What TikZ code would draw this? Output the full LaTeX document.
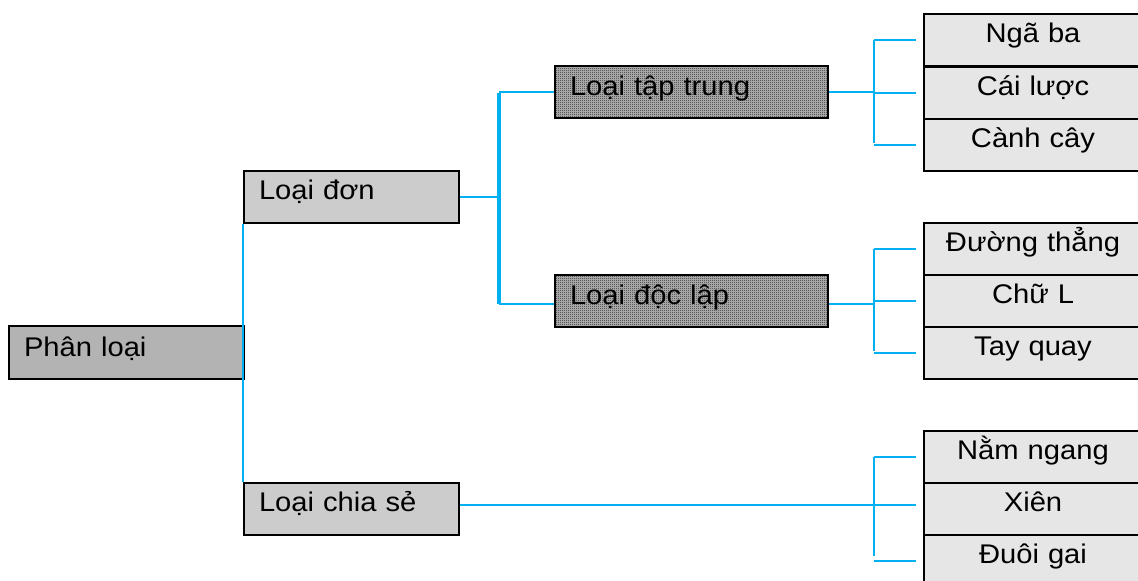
\documentclass[tikz,border=0pt]{standalone}
\usepackage{fontspec}
\setmainfont{Liberation Sans}[FakeStretch=1.08]
\usetikzlibrary{patterns}

% fine one-dot checker used for the emphasised boxes
\pgfdeclarepatternformonly{finecheck}{\pgfpoint{0pt}{0pt}}{\pgfpoint{2pt}{2pt}}{\pgfpoint{2pt}{2pt}}{%
  \pgfpathrectangle{\pgfpoint{0pt}{0pt}}{\pgfpoint{1pt}{1pt}}%
  \pgfpathrectangle{\pgfpoint{1pt}{1pt}}{\pgfpoint{1pt}{1pt}}%
  \pgfusepath{fill}}

\definecolor{linkblue}{HTML}{00B0F0}
\definecolor{rootgray}{HTML}{B3B3B3}
\definecolor{midgray}{HTML}{CCCCCC}
\definecolor{leafgray}{HTML}{E6E6E6}

\tikzset{
  box/.style={draw=black, line width=2pt, rectangle, anchor=north west,
    inner ysep=0pt, font=\fontsize{27}{32}\selectfont},
  leftbox/.style={box, align=left, inner xsep=15pt,
    text width=#1-30pt, minimum width=#1},
  rootbox/.style={leftbox=235pt, fill=rootgray, minimum height=53pt,
    text height=30pt, text depth=23pt},
  midbox/.style={leftbox=215pt, fill=midgray, minimum height=52pt,
    text height=28pt, text depth=24pt},
  darkbox/.style={leftbox=273pt, preaction={fill=gray!55},
    pattern=finecheck, pattern color=black!85, minimum height=52pt,
    text height=29pt, text depth=23pt},
  leaf/.style={box, fill=leafgray, align=center, inner xsep=0pt,
    text width=218pt, minimum width=218pt, minimum height=52pt,
    text height=28pt, text depth=24pt},
  conn/.style={draw=linkblue, line width=2.3pt},
  bus/.style={draw=linkblue, line width=3.5pt},
}

\begin{document}
\begin{tikzpicture}[x=1pt, y=-1pt]
\useasboundingbox (0,0) rectangle (1138,581);

% tree of boxes
\node[rootbox] (root) at (8,325) {Phân loại};
\node[midbox] (don) at (243,170) {Loại đơn};
\node[midbox] (chia) at (243,482) {Loại chia sẻ};
\node[darkbox] (taptrung) at (554,65) {Loại tập trung};
\node[darkbox] (doclap) at (554,274) {Loại độc lập};

\node[leaf] (ngaba) at (923,13) {Ngã ba};
\node[leaf] (cailuoc) at (923,66) {Cái lược};
\node[leaf] (canhcay) at (923,118) {Cành cây};

\node[leaf] (duongthang) at (923,222) {Đường thẳng};
\node[leaf] (chuL) at (923,274) {Chữ L};
\node[leaf] (tayquay) at (923,326) {Tay quay};

\node[leaf] (namngang) at (923,430) {Nằm ngang};
\node[leaf] (xien) at (923,482) {Xiên};
\node[leaf] (duoigai) at (923,534) {Đuôi gai};

% x positions of the vertical buses
\coordinate (busA) at (499,0);
\coordinate (busB) at (874,0);

% root to first level
\draw[conn] (don.south west) -- (chia.north west);

% Loại đơn branch
\draw[conn] (don.east) -- (busA |- don.east);
\draw[bus] ([yshift=-1pt]busA |- taptrung.west) -- ([yshift=-3pt]busA |- doclap.west);
\draw[conn] (busA |- taptrung.west) -- (taptrung.west);
\draw[conn] ([yshift=-3pt]busA |- doclap.west) -- ([yshift=-3pt]doclap.west);

% Loại tập trung leaves
\draw[conn] (taptrung.east) -- (busB |- taptrung.east);
\draw[conn] (busB |- ngaba.west) -- ([yshift=2pt]busB |- canhcay.west);
\foreach \leafname in {ngaba, cailuoc, canhcay}
  \draw[conn] (busB |- \leafname.west) -- ([xshift=-7pt]\leafname.west);

% Loại độc lập leaves
\draw[conn] ([yshift=-3pt]doclap.east) -- ([yshift=-3pt]busB |- doclap.east);
\draw[conn] (busB |- duongthang.west) -- ([yshift=2pt]busB |- tayquay.west);
\foreach \leafname in {duongthang, chuL, tayquay}
  \draw[conn] (busB |- \leafname.west) -- ([xshift=-7pt]\leafname.west);

% Loại chia sẻ leaves
\draw[conn] ([yshift=4pt]chia.east) -- ([xshift=-7pt,yshift=4pt]xien.west);
\draw[conn] (busB |- namngang.west) -- ([yshift=5pt]busB |- duoigai.west);
\foreach \leafname in {namngang, duoigai}
  \draw[conn] (busB |- \leafname.west) -- ([xshift=-7pt]\leafname.west);
\end{tikzpicture}
\end{document}
